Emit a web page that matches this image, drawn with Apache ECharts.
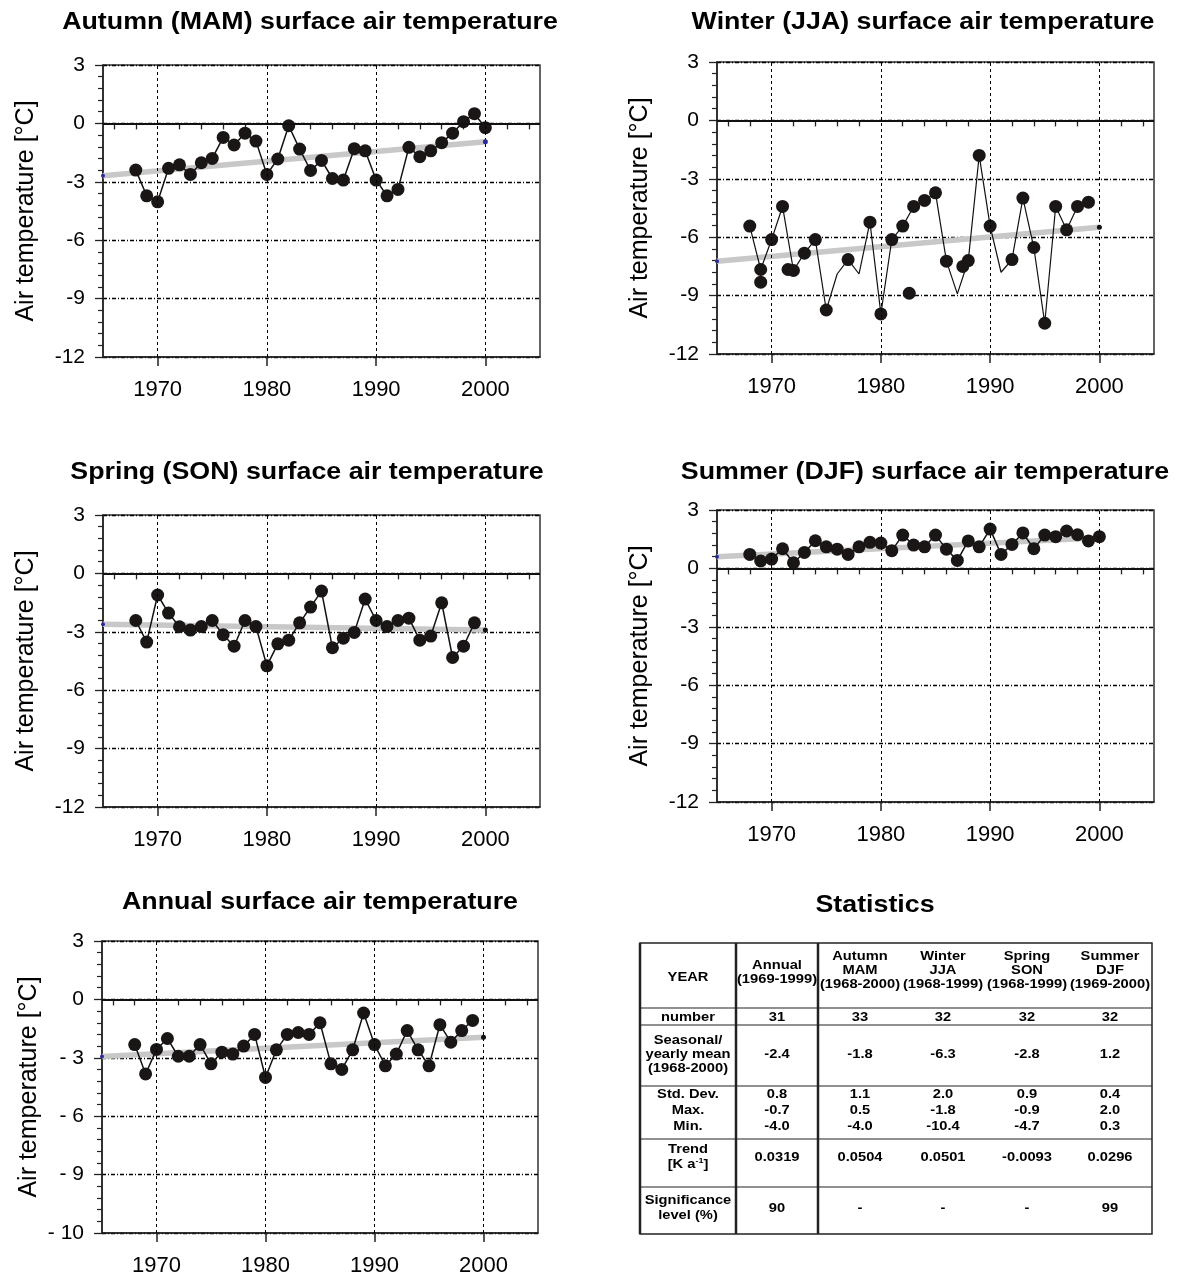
<!DOCTYPE html>
<html><head><meta charset="utf-8">
<script src="https://cdn.jsdelivr.net/npm/echarts@6/dist/echarts.min.js"></script>
<style>html,body{margin:0;padding:0;background:#fff}#c{width:1183px;height:1277px}</style>
</head><body><div id="c"></div>
<script>
// ---------------- DATA ----------------
const years1968to2000 = [1968,1969,1970,1971,1972,1973,1974,1975,1976,1977,1978,1979,1980,1981,1982,1983,1984,1985,1986,1987,1988,1989,1990,1991,1992,1993,1994,1995,1996,1997,1998,1999,2000];
const years1968to1999 = [1968,1969,1970,1971,1972,1973,1974,1975,1976,1977,1978,1979,1980,1981,1982,1983,1984,1985,1986,1987,1988,1989,1990,1991,1992,1993,1994,1995,1996,1997,1998,1999];

const autumnValues = [-2.40,-3.72,-4.03,-2.31,-2.13,-2.62,-2.02,-1.80,-0.72,-1.11,-0.50,-0.91,-2.62,-1.83,-0.12,-1.32,-2.42,-1.90,-2.83,-2.91,-1.30,-1.41,-2.91,-3.72,-3.39,-1.23,-1.71,-1.41,-0.99,-0.50,0.09,0.50,-0.22];
const winterLineValues = [-5.43,-7.66,-6.12,-4.42,-7.71,-6.82,-6.12,-9.74,-7.89,-7.15,-7.89,-5.23,-9.94,-6.12,-5.43,-4.42,-4.11,-3.72,-7.23,-8.91,-7.20,-1.80,-5.43,-7.80,-7.15,-3.99,-6.53,-10.42,-4.42,-5.62,-4.42,-4.20];
const winterDotYears = [1968,1969,1969,1970,1971,1971.5,1972,1973,1974,1975,1977,1979,1980,1981,1982,1982.6,1983,1984,1985,1986,1987.5,1988,1989,1990,1992,1993,1994,1995,1996,1997,1998,1999];
const winterDotValues = [-5.43,-7.66,-8.31,-6.12,-4.42,-7.66,-7.71,-6.82,-6.12,-9.74,-7.15,-5.23,-9.94,-6.12,-5.43,-8.88,-4.42,-4.11,-3.72,-7.23,-7.50,-7.20,-1.80,-5.43,-7.15,-3.99,-6.53,-10.42,-4.42,-5.62,-4.42,-4.20];
const springValues = [-2.42,-3.53,-1.11,-2.04,-2.74,-2.91,-2.73,-2.42,-3.15,-3.74,-2.42,-2.73,-4.75,-3.62,-3.43,-2.54,-1.73,-0.91,-3.82,-3.33,-3.03,-1.32,-2.42,-2.73,-2.42,-2.30,-3.43,-3.22,-1.51,-4.32,-3.74,-2.54];
const summerValues = [0.72,0.38,0.48,1.01,0.29,0.82,1.42,1.11,0.99,0.72,1.11,1.34,1.30,0.91,1.71,1.20,1.11,1.71,0.99,0.41,1.41,1.11,2.02,0.72,1.23,1.82,1.01,1.71,1.63,1.92,1.73,1.41,1.63];
const annualValues = [-2.32,-3.83,-2.57,-2.01,-2.92,-2.92,-2.32,-3.31,-2.71,-2.81,-2.40,-1.80,-4.01,-2.59,-1.80,-1.70,-1.80,-1.20,-3.31,-3.60,-2.59,-0.70,-2.32,-3.41,-2.81,-1.60,-2.59,-3.41,-1.30,-2.20,-1.60,-1.08];

const trendYears = [1965, 2000];
const autumnTrend = [-2.69, -0.94];
const winterTrend = [-7.23, -5.49];
const springTrend = [-2.61, -2.91];
const summerTrend = [0.60, 1.58];
const annualTrend = [-2.93, -1.94];

const xMajorTicks = [1970, 1980, 1990, 2000];
const xMinorTicks = [1966,1968,1972,1974,1976,1978,1982,1984,1986,1988,1992,1994,1996,1998,2002,2004];
const yTickValues = [-12, -9, -6, -3, 0, 3];
const yTickLabels = ['-12', '-9', '-6', '-3', '0', '3'];
const annualYTickLabels = ['- 10', '- 9', '- 6', '- 3', '0', '3'];
const yAxisName = 'Air temperature [°C]';

const panelTitles = [
  'Autumn (MAM) surface air temperature',
  'Winter (JJA) surface air temperature',
  'Spring (SON) surface air temperature',
  'Summer (DJF) surface air temperature',
  'Annual surface air temperature'
];
const tableTitle = 'Statistics';
const tableHeaders = ['YEAR', 'Annual\n(1969-1999)', 'Autumn\nMAM\n(1968-2000)', 'Winter\nJJA\n(1968-1999)', 'Spring\nSON\n(1968-1999)', 'Summer\nDJF\n(1969-2000)'];
const tableRowLabels = ['number', 'Seasonal/\nyearly mean\n(1968-2000)', 'Std. Dev.\nMax.\nMin.', 'Trend\n[K a{sup|-1}]', 'Significance\nlevel (%)'];
const rowNumber = ['31', '33', '32', '32', '32'];
const rowMean = ['-2.4', '-1.8', '-6.3', '-2.8', '1.2'];
const rowStd = ['0.8', '1.1', '2.0', '0.9', '0.4'];
const rowMax = ['-0.7', '0.5', '-1.8', '-0.9', '2.0'];
const rowMin = ['-4.0', '-4.0', '-10.4', '-4.7', '0.3'];
const rowTrend = ['0.0319', '0.0504', '0.0501', '-0.0093', '0.0296'];
const rowSignificance = ['90', '-', '-', '-', '99'];

// ---------------- BUILD ----------------
const FONT = '"Liberation Sans", Arial, Helvetica, sans-serif';
const zip = (a, b) => a.map((v, i) => [v, b[i]]);
const AX = '#222';

const panels = [
  { grid: { left: 103, top: 65, width: 437, height: 292 }, years: years1968to2000, values: autumnValues, trend: autumnTrend, labels: yTickLabels, nameGap: 64, endColor: '#2a2a9a', title: [310, 23] },
  { grid: { left: 717, top: 62, width: 437, height: 292 }, years: years1968to1999, values: winterLineValues, dots: zip(winterDotYears, winterDotValues), trend: winterTrend, labels: yTickLabels, nameGap: 64, endColor: '#111', title: [923, 23] },
  { grid: { left: 103, top: 515, width: 437, height: 292 }, years: years1968to1999, values: springValues, trend: springTrend, labels: yTickLabels, nameGap: 64, endColor: '#111', title: [307, 473] },
  { grid: { left: 717, top: 510, width: 437, height: 292 }, years: years1968to2000, values: summerValues, trend: summerTrend, labels: yTickLabels, nameGap: 64, endColor: '#111', title: [925, 473] },
  { grid: { left: 102, top: 941, width: 436, height: 292 }, years: years1968to1999, values: annualValues, trend: annualTrend, labels: annualYTickLabels, nameGap: 60, endColor: '#111', title: [320, 903] }
];

const grids = [], xAxes = [], yAxes = [], series = [];
panels.forEach((p, i) => {
  grids.push(Object.assign({ show: true, borderColor: '#333', borderWidth: 1.5, backgroundColor: 'transparent', outerBoundsMode: 'none', containLabel: false }, p.grid));
  xAxes.push({
    gridIndex: i, type: 'value', min: 1965, max: 2005, position: 'bottom',
    axisLine: { show: true, onZero: false, lineStyle: { color: AX, width: 1.5 } },
    axisTick: { show: true, customValues: xMajorTicks, length: 9, lineStyle: { color: AX, width: 1.5 } },
    axisLabel: { show: true, customValues: xMajorTicks, margin: 22, fontSize: 22, color: '#000', fontFamily: FONT,
      formatter: v => String(Math.round(v)) },
    splitLine: { show: false }
  });
  xAxes.push({
    gridIndex: i, type: 'value', min: 1965, max: 2005, position: 'bottom',
    axisLine: { show: false },
    axisTick: { show: true, customValues: xMinorTicks, length: 6, lineStyle: { color: AX, width: 1.3 } },
    axisLabel: { show: false },
    splitLine: { show: false }
  });
  const labs = p.labels;
  yAxes.push({
    gridIndex: i, type: 'value', min: -12, max: 3, interval: 3,
    name: yAxisName, nameLocation: 'middle', nameGap: p.nameGap,
    nameTextStyle: { fontSize: 25, color: '#000', fontFamily: FONT },
    axisLine: { show: true, onZero: false, lineStyle: { color: AX, width: 1.5 } },
    axisTick: { show: true, length: 8, lineStyle: { color: AX, width: 1.3 } },
    minorTick: { show: true, splitNumber: 5, length: 5, lineStyle: { color: AX, width: 1.2 } },
    axisLabel: { margin: 18, fontSize: 21, color: '#000', fontFamily: FONT,
      formatter: v => labs[yTickValues.indexOf(Math.round(v))] },
    splitLine: { show: true, lineStyle: { color: '#000', width: 1.3, type: [4, 2, 1, 2] } },
    minorSplitLine: { show: false }
  });
  const xi = i * 2;
  series.push({
    type: 'line', xAxisIndex: xi, yAxisIndex: i, data: zip(trendYears, p.trend),
    symbol: 'none', silent: true, z: 2,
    lineStyle: { color: '#c8c8c8', width: 5.5 },
    markLine: {
      silent: true, symbol: ['none', 'none'], label: { show: false }, animation: false,
      data: xMajorTicks.map(x => ({ xAxis: x, lineStyle: { color: '#000', width: 1, type: [3, 3] } }))
        .concat([{ yAxis: 0, lineStyle: { color: '#111', width: 2.2, type: 'solid' } }])
    }
  });
  if (p.dots) {
    series.push({ type: 'line', xAxisIndex: xi, yAxisIndex: i, data: zip(p.years, p.values), symbol: 'none', z: 3,
      lineStyle: { color: '#111', width: 1.2 } });
    series.push({ type: 'scatter', xAxisIndex: xi, yAxisIndex: i, data: p.dots, symbol: 'circle', symbolSize: 13, z: 4,
      itemStyle: { color: '#1a1616', opacity: 1 } });
  } else {
    series.push({ type: 'line', xAxisIndex: xi, yAxisIndex: i, data: zip(p.years, p.values), symbol: 'circle', symbolSize: 13, z: 4,
      showAllSymbol: true, itemStyle: { color: '#1a1616', borderWidth: 0, opacity: 1 }, lineStyle: { color: '#111', width: 1.5 } });
  }
  series.push({ type: 'scatter', xAxisIndex: xi, yAxisIndex: i, data: [[trendYears[0], p.trend[0]]], symbolSize: 4, z: 5, itemStyle: { color: '#2a2a9a', opacity: 1 } });
  series.push({ type: 'scatter', xAxisIndex: xi, yAxisIndex: i, data: [[trendYears[1], p.trend[1]]], symbolSize: 5, z: 5, itemStyle: { color: p.endColor, opacity: 1 } });
});

// ---------------- GRAPHIC: titles & table ----------------
function txt(x, y, text, font, extra, sx) {
  return { type: 'text', x: x, y: y, silent: true, scaleX: sx || 1,
    style: Object.assign({ text: text, font: font, fill: '#000', align: 'center', verticalAlign: 'middle', textAlign: 'center', textVerticalAlign: 'middle' }, extra || {}) };
}
function ln(x1, y1, x2, y2, w) {
  return { type: 'line', silent: true, shape: { x1: x1, y1: y1, x2: x2, y2: y2 }, style: { stroke: '#222', lineWidth: w } };
}
const titleFont = 'bold 23.5px ' + FONT;
const TITLE_SX = 1.14;
const tFont = 'bold 13px ' + FONT;
const TAB_SX = 1.13;
const graphics = [];
panels.forEach((p, i) => graphics.push(txt(p.title[0], p.title[1], panelTitles[i], titleFont, null, TITLE_SX)));
graphics.push(txt(875, 906, tableTitle, titleFont, null, TITLE_SX));

const TL = 640, TR = 1152, TT = 943, TB = 1234;
const colX = [688, 777, 860, 943, 1027, 1110];
const hLines = [1008, 1025, 1086, 1139, 1187];
graphics.push({ type: 'rect', silent: true, shape: { x: TL, y: TT, width: TR - TL, height: TB - TT }, style: { fill: 'none', stroke: '#222', lineWidth: 1.5 } });
graphics.push(ln(TL, TT, TL, TB, 2.5));
graphics.push(ln(736, TT, 736, TB, 2.5));
graphics.push(ln(818, TT, 818, TB, 2.5));
hLines.forEach(y => graphics.push(ln(TL, y, TR, y, 1.2)));

const headerY = [977, 972, 970, 970, 970, 970];
tableHeaders.forEach((h, i) => graphics.push(txt(colX[i], headerY[i], h, tFont, { lineHeight: 14 }, TAB_SX)));
const rowY = [1017, 1054, 1110, 1157, 1208];
const rowLH = [14, 14, 16, 15, 15];
tableRowLabels.forEach((r, i) => graphics.push(txt(colX[0], rowY[i], r, tFont, {
  lineHeight: rowLH[i],
  rich: { sup: { font: 'bold 8px ' + FONT, verticalAlign: 'top', lineHeight: 15, padding: [0, 0, 6, 0] } }
}, TAB_SX)));
const rowVals = [rowNumber, rowMean, null, rowTrend, rowSignificance];
rowVals.forEach((vals, ri) => {
  if (!vals) return;
  vals.forEach((v, ci) => graphics.push(txt(colX[ci + 1], rowY[ri], v, tFont, null, TAB_SX)));
});
rowStd.forEach((v, ci) => graphics.push(txt(colX[ci + 1], rowY[2], v + '\n' + rowMax[ci] + '\n' + rowMin[ci], tFont, { lineHeight: 16 }, TAB_SX)));

const chart = echarts.init(document.getElementById('c'), null, { renderer: 'canvas', width: 1183, height: 1277 });
chart.setOption({
  animation: false,
  backgroundColor: '#fff',
  textStyle: { fontFamily: FONT },
  grid: grids, xAxis: xAxes, yAxis: yAxes, series: series,
  graphic: { elements: graphics }
});
</script>
</body></html>
